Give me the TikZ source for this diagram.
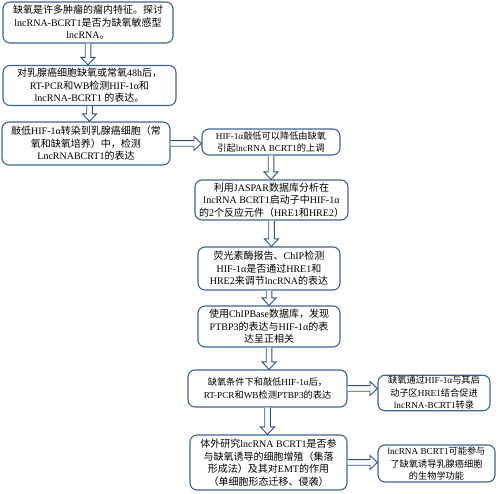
\documentclass[tikz,border=0pt]{standalone}
\usepackage{fontspec}
\usepackage{tikz}
\usetikzlibrary{calc}
\setmainfont{Liberation Serif}
\newfontfamily\latinfont{Liberation Serif}
\newfontfamily\cjk{Noto Sans CJK SC}

% switch fonts between Chinese and Latin characters
\XeTeXinterchartokenstate=1
\newXeTeXintercharclass\cjkclass
\newcount\cjkcode
\cjkcode="4E00
\loop \XeTeXcharclass\cjkcode=\cjkclass \ifnum\cjkcode<"9FFF \advance\cjkcode 1 \repeat
\cjkcode="3000
\loop \XeTeXcharclass\cjkcode=\cjkclass \ifnum\cjkcode<"303F \advance\cjkcode 1 \repeat
\cjkcode="FF00
\loop \XeTeXcharclass\cjkcode=\cjkclass \ifnum\cjkcode<"FFEF \advance\cjkcode 1 \repeat
\XeTeXinterchartoks 0 \cjkclass = {\cjk}
\XeTeXinterchartoks 4095 \cjkclass = {\cjk}
\XeTeXinterchartoks \cjkclass 0 = {\latinfont}
\XeTeXinterchartoks 4095 0 = {\latinfont}

\definecolor{boxblue}{RGB}{62,100,145}
\definecolor{arrowblue}{RGB}{47,82,143}

\tikzset{
  stepbox/.style={draw=boxblue, line width=1.1pt, rounded corners=7pt, fill=white,
    align=center, inner sep=1pt, font=\fontsize{10}{12.5}\selectfont},
  smallbox/.style={stepbox, font=\fontsize{9.2}{12.5}\selectfont},
  blockarrow/.style={draw=arrowblue, line width=0.9pt, fill=white, line join=miter},
}

% hollow block arrows
\newcommand{\downblock}[2]{%
  \draw[blockarrow] ($(#1.south)+(-2.8,0)$) -- ($(#1.south |- #2.north)+(-2.8,7.5)$)
    -- ($(#1.south |- #2.north)+(-7,7.5)$) -- (#1.south |- #2.north)
    -- ($(#1.south |- #2.north)+(7,7.5)$) -- ($(#1.south |- #2.north)+(2.8,7.5)$)
    -- ($(#1.south)+(2.8,0)$);}
\newcommand{\rightblock}[2]{%
  \draw[blockarrow] ($(#1.east)+(0,2.8)$) -- ($(#1.east -| #2.west)+(-7.5,2.8)$)
    -- ($(#1.east -| #2.west)+(-7.5,7)$) -- (#1.east -| #2.west)
    -- ($(#1.east -| #2.west)+(-7.5,-7)$) -- ($(#1.east -| #2.west)+(-7.5,-2.8)$)
    -- ($(#1.east)+(0,-2.8)$);}

\begin{document}
\begin{tikzpicture}[x=1pt, y=1pt]
    \useasboundingbox (0,0) rectangle (500,494);

    % left column
    \node[stepbox, minimum width=170pt, minimum height=41pt] (hypoxia) at (88,471.5)
      {缺氧是许多肿瘤的瘤内特征。探讨\\lncRNA-BCRT1是否为缺氧敏感型\\lncRNA。};
    \node[stepbox, minimum width=173pt, minimum height=40pt] (detect) at (89.5,408.5)
      {对乳腺癌细胞缺氧或常氧48h后，\\RT-PCR和WB检测HIF-1α和\\lncRNA-BCRT1 的表达。};
    \node[stepbox, minimum width=168pt, minimum height=43pt] (knockdown) at (86,350.5)
      {敲低HIF-1α转染到乳腺癌细胞（常\\氧和缺氧培养）中，检测\\LncRNABCRT1的表达};

    % right column
    \node[smallbox, minimum width=138pt, minimum height=26pt] (reduce) at (271,352)
      {HIF-1α敲低可以降低由缺氧\\引起lncRNA BCRT1的上调};
    \node[stepbox, minimum width=153pt, minimum height=40pt] (jaspar) at (271.5,294)
      {利用JASPAR数据库分析在\\lncRNA BCRT1启动子中HIF-1α\\的2个反应元件（HRE1和HRE2）};
    \node[stepbox, minimum width=142pt, minimum height=43pt] (chip) at (269,225.5)
      {荧光素酶报告、ChIP检测\\HIF-1α是否通过HRE1和\\HRE2来调节lncRNA的表达};
    \node[stepbox, minimum width=142pt, minimum height=41pt] (chipbase) at (269,167.5)
      {使用ChIPBase数据库，发现\\PTBP3的表达与HIF-1α的表\\达呈正相关};
    \node[smallbox, minimum width=159pt, minimum height=37pt] (ptbp) at (267.5,105.5)
      {缺氧条件下和敲低HIF-1α后，\\RT-PCR和WB检测PTBP3的表达};
    \node[stepbox, minimum width=157pt, minimum height=55pt] (vitro) at (268.5,31.5)
      {体外研究lncRNA BCRT1是否参\\与缺氧诱导的细胞增殖（集落\\形成法）及其对EMT的作用\\（单细胞形态迁移、侵袭）};

    % conclusions
    \node[smallbox, minimum width=112pt, minimum height=34pt] (promote) at (434,101)
      {缺氧通过HIF-1α与其启\\动子区HRE1结合促进\\lncRNA-BCRT1转录};
    \node[smallbox, minimum width=117pt, minimum height=37pt] (function) at (436.5,30.5)
      {lncRNA BCRT1可能参与\\了缺氧诱导乳腺癌细胞\\的生物学功能};

    % arrows
    \downblock{hypoxia}{detect}
    \downblock{detect}{knockdown}
    \rightblock{knockdown}{reduce}
    \downblock{reduce}{jaspar}
    \downblock{jaspar}{chip}
    \downblock{chip}{chipbase}
    \downblock{chipbase}{ptbp}
    \rightblock{ptbp}{promote}
    \downblock{ptbp}{vitro}
    \rightblock{vitro}{function}
\end{tikzpicture}
\end{document}
